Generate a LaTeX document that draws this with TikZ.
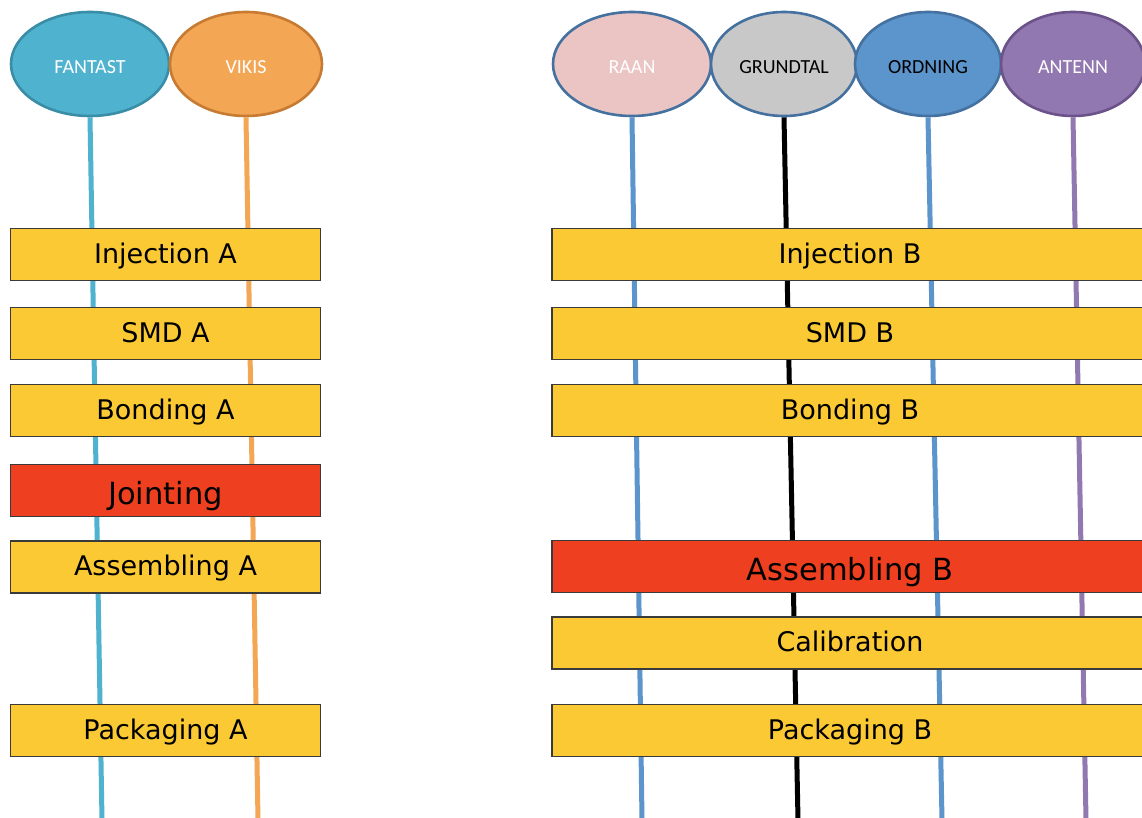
\documentclass[tikz,border=0pt]{standalone}
\usepackage{fontspec}
\setmainfont{DejaVu Sans}
\newfontfamily\tagfont{Carlito}
\usetikzlibrary{shapes.geometric}

\definecolor{boxyellow}{HTML}{FBC934}
\definecolor{boxred}{HTML}{EE3F20}
\definecolor{boxborder}{HTML}{3A3A3A}
\definecolor{fantastfill}{HTML}{4FB3CF}
\definecolor{fantastedge}{HTML}{3A8DA6}
\definecolor{vikisfill}{HTML}{F3A653}
\definecolor{vikisedge}{HTML}{C77A32}
\definecolor{raanfill}{HTML}{EBC4C4}
\definecolor{grundfill}{HTML}{C8C8C8}
\definecolor{blueedge}{HTML}{44719F}
\definecolor{ordfill}{HTML}{5B95CC}
\definecolor{antfill}{HTML}{9278B0}
\definecolor{antedge}{HTML}{6B5289}

\tikzset{
  tag/.style={ellipse, line width=2.6pt, minimum height=104pt, inner sep=0pt,
    text height=19pt, text depth=0pt,
    font=\tagfont\fontsize{20}{22}\selectfont},
  lane/.style={line width=5pt},
  proc/.style={draw=boxborder, line width=1.1pt, fill=boxyellow, minimum height=52pt,
    inner sep=0pt, text height=17pt, text depth=0pt, font=\fontsize{27}{30}\selectfont},
  hot/.style={proc, fill=boxred, text height=28pt, font=\fontsize{30.5}{34}\selectfont},
  narrow/.style={minimum width=310pt},
  wide/.style={minimum width=596pt},
}

\begin{document}
\begin{tikzpicture}[x=1pt,y=-1pt]
\useasboundingbox (0,0) rectangle (1142,818);
\clip (0,0) rectangle (1142,818);
\fill[white] (0,0) rectangle (1142,818);

% lower ends of the lanes
\coordinate (fb) at (102,820);
\coordinate (vb) at (258,820);
\coordinate (rb) at (642,820);
\coordinate (gb) at (798,820);
\coordinate (ob) at (942,820);
\coordinate (ab) at (1086,820);

% lane headers
\node[tag, draw=fantastedge, fill=fantastfill, text=white, minimum width=158pt] (fantast) at (90,64) {FANTAST};
\node[tag, draw=vikisedge, fill=vikisfill, text=white, minimum width=152pt] (vikis) at (246,64) {VIKIS};
\node[tag, draw=blueedge, fill=raanfill, text=white, minimum width=158pt] (raan) at (632,64) {RAAN};
\node[tag, draw=blueedge, fill=grundfill, text=black, minimum width=146pt] (grund) at (784,64) {GRUNDTAL};
\node[tag, draw=blueedge, fill=ordfill, text=black, minimum width=146pt] (ord) at (928,64) {ORDNING};
\node[tag, draw=antedge, fill=antfill, text=white, minimum width=144pt] (ant) at (1073,64) {ANTENN};

% lanes
\draw[lane, fantastfill] (fantast.south) -- (fb);
\draw[lane, vikisfill] (vikis.south) -- (vb);
\draw[lane, ordfill] (raan.south) -- (rb);
\draw[lane, black] (grund.south) -- (gb);
\draw[lane, ordfill] (ord.south) -- (ob);
\draw[lane, antfill] (ant.south) -- (ab);

% line A
\node[proc, narrow] (injA) at (165.5,254.5) {Injection A};
\node[proc, narrow] (smdA) at (165.5,333.5) {SMD A};
\node[proc, narrow] (bondA) at (165.5,410.5) {Bonding A};
\node[hot, narrow] (joint) at (165.5,490.5) {Jointing};
\node[proc, narrow] (asmA) at (165.5,567) {Assembling A};
\node[proc, narrow] (packA) at (165.5,730.5) {Packaging A};

% line B
\node[proc, wide] (injB) at (850,254.5) {Injection B};
\node[proc, wide] (smdB) at (850,333.5) {SMD B};
\node[proc, wide] (bondB) at (850,410.5) {Bonding B};
\node[hot, wide] (asmB) at (850,566.5) {Assembling B};
\node[proc, wide] (calib) at (850,643) {Calibration};
\node[proc, wide] (packB) at (850,730.5) {Packaging B};
\end{tikzpicture}
\end{document}
